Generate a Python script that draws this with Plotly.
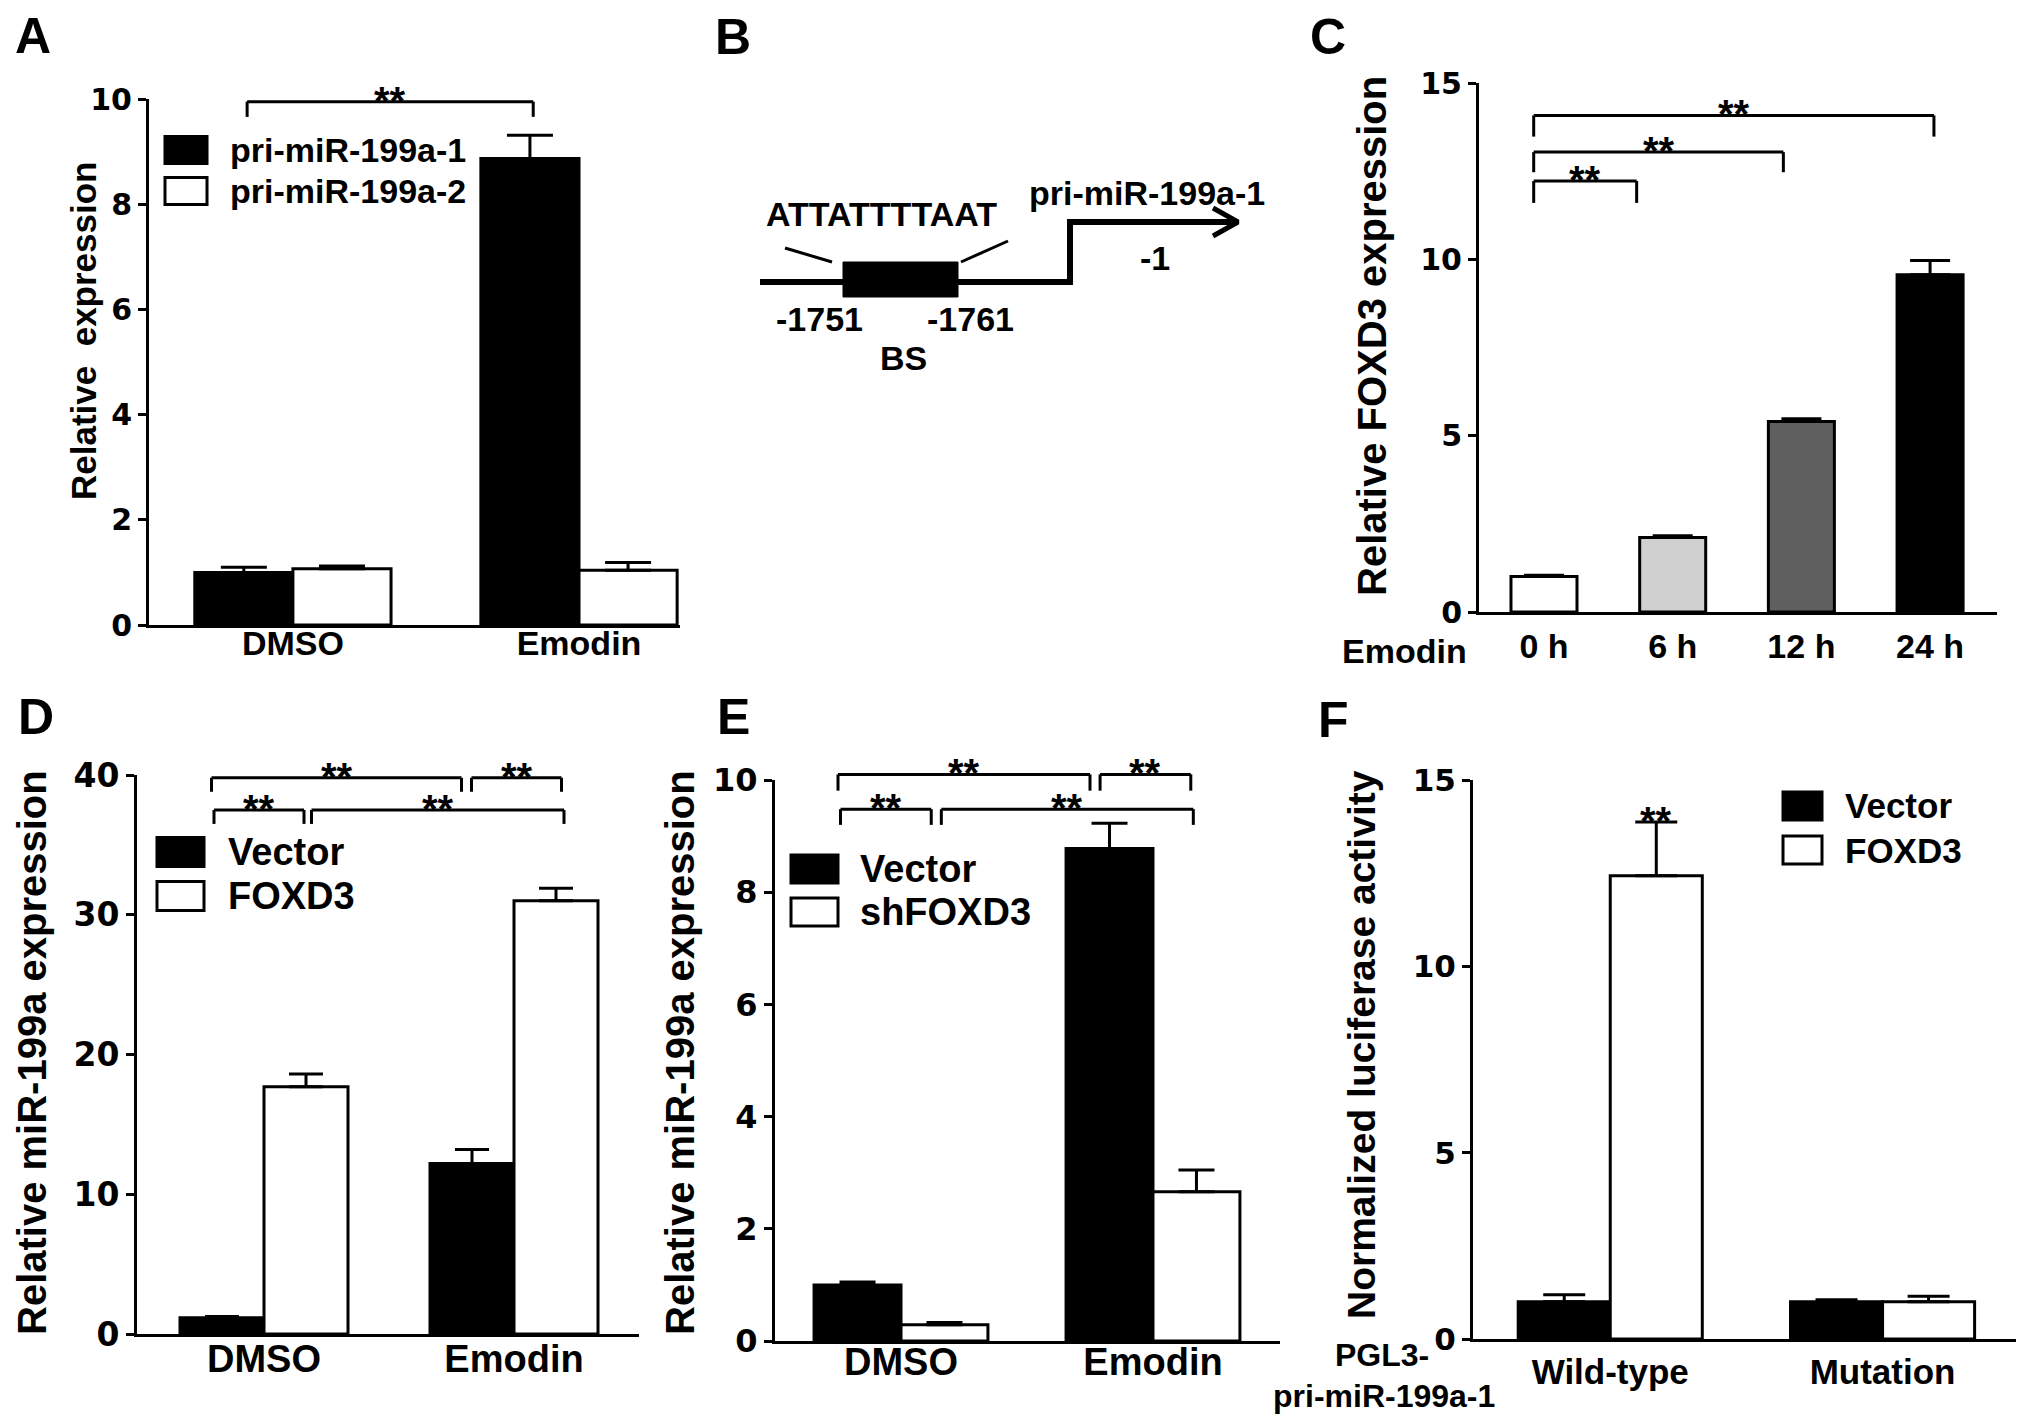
import plotly.graph_objects as go

W, H = 2031, 1426
FONT = "Liberation Sans, Arial, sans-serif"
NUM_FONT = "DejaVu Sans, Verdana, sans-serif"

# A: pri-miR-199a-1 / -2 after emodin
a_groups = ["DMSO", "Emodin"]
a_pri1 = [1.00, 8.87]
a_pri1_err = [0.10, 0.44]
a_pri2 = [1.07, 1.04]
a_pri2_err = [0.05, 0.15]

# C: FOXD3 after emodin, time course
c_times = ["0 h", "6 h", "12 h", "24 h"]
c_foxd3 = [1.01, 2.11, 5.40, 9.56]
c_foxd3_err = [0.03, 0.05, 0.08, 0.41]
c_colors = ["#ffffff", "#d0d0d0", "#5f5f5f", "#000000"]

# D: miR-199a with FOXD3 overexpression
d_groups = ["DMSO", "Emodin"]
d_vector = [1.16, 12.2]
d_vector_err = [0.10, 1.0]
d_foxd3 = [17.7, 31.0]
d_foxd3_err = [0.9, 0.9]

# E: miR-199a with FOXD3 knockdown
e_groups = ["DMSO", "Emodin"]
e_vector = [1.00, 8.78]
e_vector_err = [0.05, 0.45]
e_shfoxd3 = [0.29, 2.66]
e_shfoxd3_err = [0.04, 0.39]

# F: luciferase reporter
f_groups = ["Wild-type", "Mutation"]
f_vector = [1.00, 1.00]
f_vector_err = [0.19, 0.05]
f_foxd3 = [12.43, 1.00]
f_foxd3_err = [1.44, 0.15]

# significance brackets (x0, x1, y, drop) in axis units
a_brackets = [(-0.16, 0.84, 9.95, 0.29)]
c_brackets = [(-0.08, 0.72, 12.22, 0.62), (-0.08, 1.86, 13.04, 0.57), (-0.08, 3.03, 14.08, 0.60)]
d_brackets = [(-0.21, 0.79, 39.8, 1.0), (0.83, 1.19, 39.8, 1.0),
              (-0.20, 0.16, 37.5, 1.0), (0.19, 1.20, 37.5, 1.0)]
e_brackets = [(-0.25, 0.75, 10.1, 0.29), (0.79, 1.15, 10.1, 0.29),
              (-0.24, 0.12, 9.48, 0.28), (0.16, 1.16, 9.48, 0.28)]


def px(x):
    return x / W


def py(y):
    return 1 - y / H


fig = go.Figure()
yranges = {}


def sfx(n):
    return "" if n == 1 else str(n)


def bar(n, y, err, color, width, cap, offset=None):
    fig.add_trace(go.Bar(
        x=list(range(len(y))), y=y, width=width, offset=offset,
        marker=dict(color=color, line=dict(color="black", width=3)),
        error_y=dict(type="data", symmetric=False, array=err, arrayminus=[0] * len(err),
                     color="black", thickness=3, width=cap),
        xaxis="x" + sfx(n), yaxis="y" + sfx(n), showlegend=False, hoverinfo="skip"))


def axes(n, xdom, ydom, xrange, yrange, dtick, ticktext, standoff, xsize=36, ysize=30):
    yranges[n] = yrange
    fig.update_layout(**{
        "xaxis" + sfx(n): dict(domain=xdom, range=xrange, anchor="y" + sfx(n),
                               tickmode="array", tickvals=list(range(len(ticktext))),
                               ticktext=ticktext, ticks="", showline=True,
                               linecolor="black", linewidth=3, showgrid=False,
                               zeroline=False, ticklabelstandoff=standoff, automargin=False,
                               tickfont=dict(family=FONT, size=xsize, color="black",
                                             weight="bold"),
                               fixedrange=True),
        "yaxis" + sfx(n): dict(domain=ydom, range=yrange, anchor="x" + sfx(n),
                               tick0=0, dtick=dtick, ticks="outside", ticklen=8,
                               tickwidth=3, tickcolor="black", showline=True,
                               linecolor="black", linewidth=3, showgrid=False,
                               zeroline=False, automargin=False, fixedrange=True,
                               tickfont=dict(family=NUM_FONT, size=ysize, color="black",
                                             weight="bold")),
    })


def ydom(n, y):
    r0, r1 = yranges[n]
    return (y - r0) / (r1 - r0)


def stars(n, x, y, size=40):
    fig.add_annotation(x=x, y=ydom(n, y), xref="x" + sfx(n), yref="y" + sfx(n) + " domain",
                       text="**", showarrow=False, yanchor="bottom", yshift=-23,
                       font=dict(family=FONT, size=size, color="black", weight="bold"))


def brackets(n, items):
    for x0, x1, y, d in items:
        top, low = ydom(n, y), ydom(n, y - d)
        for seg in [(x0, low, x0, top), (x0, top, x1, top), (x1, top, x1, low)]:
            fig.add_shape(type="line", xref="x" + sfx(n), yref="y" + sfx(n) + " domain",
                          x0=seg[0], y0=seg[1], x1=seg[2], y1=seg[3],
                          line=dict(color="black", width=3))
        stars(n, (x0 + x1) / 2, y)


def text(x, y, s, size, anchor="center", angle=0):
    fig.add_annotation(x=px(x), y=py(y), xref="paper", yref="paper", text=s,
                       showarrow=False, xanchor=anchor, yanchor="middle", textangle=angle,
                       font=dict(family=FONT, size=size, color="black", weight="bold"))


def legend(x0, ys, labels, fills, size, bw=44, bh=28, gap=21):
    for yc, lab, fill in zip(ys, labels, fills):
        fig.add_shape(type="rect", xref="paper", yref="paper",
                      x0=px(x0), x1=px(x0 + bw), y0=py(yc + bh / 2), y1=py(yc - bh / 2),
                      fillcolor=fill, line=dict(color="black", width=3))
        text(x0 + bw + gap, yc, lab, size, anchor="left")


# ---- A
w = 0.343
bar(1, a_pri1, a_pri1_err, "black", w, 23, -w)
bar(1, a_pri2, a_pri2_err, "white", w, 23, 0)
axes(1, [px(149), px(680)], [py(625), py(99)], [-0.503, 1.353], [0, 10], 2, a_groups, -14, 34, 30)
brackets(1, a_brackets)
legend(165, [150, 191], ["pri-miR-199a-1", "pri-miR-199a-2"], ["black", "white"], 34, 42, 27)
text(83, 331, "Relative\u00a0 expression", 35, angle=-90)

# ---- C
bar(2, c_foxd3, c_foxd3_err, "black", 0.513, 20)
fig.data[-1].marker.color = c_colors
axes(2, [px(1479), px(1997)], [py(612), py(83)], [-0.505, 3.52], [0, 15], 5, c_times, 2, 34, 30)
brackets(2, c_brackets)
text(1404, 651, "Emodin", 34)
text(1372, 336, "Relative FOXD3 expression", 40, angle=-90)

# ---- D
w = 0.336
bar(3, d_vector, d_vector_err, "black", w, 17, -w)
bar(3, d_foxd3, d_foxd3_err, "white", w, 17, 0)
axes(3, [px(137), px(639)], [py(1334), py(775)], [-0.508, 1.5], [0, 40], 10, d_groups, -11, 38, 33)
brackets(3, d_brackets)
legend(157, [852, 896], ["Vector", "FOXD3"], ["black", "white"], 38, 47, 29, 22)
text(32, 1053, "Relative miR-199a expression", 40, angle=-90)

# ---- E
w = 0.345
bar(4, e_vector, e_vector_err, "black", w, 18, -w)
bar(4, e_shfoxd3, e_shfoxd3_err, "white", w, 18, 0)
axes(4, [px(775), px(1280)], [py(1341), py(780)], [-0.5, 1.504], [0, 10], 2, e_groups, -15, 38, 32)
brackets(4, e_brackets)
legend(791, [869, 912], ["Vector", "shFOXD3"], ["black", "white"], 38, 47, 28, 20)
text(680, 1053, "Relative miR-199a expression", 40, angle=-90)

# ---- F
w = 0.338
bar(5, f_vector, f_vector_err, "black", w, 21, -w)
bar(5, f_foxd3, f_foxd3_err, "white", w, 21, 0)
axes(5, [px(1473), px(2016)], [py(1339), py(780)], [-0.504, 1.49], [0, 15], 5, f_groups, 0, 35, 31)
stars(5, w / 2, f_foxd3[0] + f_foxd3_err[0])
legend(1783, [806, 850], ["Vector", "FOXD3"], ["black", "white"], 35, 39, 28)
text(1382, 1355, "PGL3-", 32)
text(1384, 1396, "pri-miR-199a-1", 32)
text(1361, 1045, "Normalized luciferase activity", 39, angle=-90)

# ---- B: schematic (drawing units)
b_dna_x = [760, 1070, 1070, 1238]
b_dna_y = [282, 282, 222, 222]
b_head_x = [1213, 1238, 1213]
b_head_y = [208, 222, 236]
b_site = dict(x0=843, x1=958, y0=262, y1=297)
b_flanks = [([785, 832], [248, 262]), ([961, 1008], [262, 241])]
b_labels = [("ATTATTTTAAT", 881, 214), ("pri-miR-199a-1", 1147, 193), ("-1", 1155, 258),
            ("-1751", 819, 319), ("-1761", 970, 319), ("BS", 903, 358)]

fig.update_layout(
    xaxis6=dict(domain=[px(700), px(1300)], range=[700, 1300], visible=False, anchor="y6",
                automargin=False),
    yaxis6=dict(domain=[py(400), py(150)], range=[400, 150], visible=False, anchor="x6",
                automargin=False),
)
fig.add_trace(go.Scatter(x=b_dna_x, y=b_dna_y, mode="lines", line=dict(color="black", width=6),
                         xaxis="x6", yaxis="y6", showlegend=False, hoverinfo="skip"))
fig.add_trace(go.Scatter(x=b_head_x, y=b_head_y, mode="lines", line=dict(color="black", width=5),
                         xaxis="x6", yaxis="y6", showlegend=False, hoverinfo="skip"))
for fx, fy in b_flanks:
    fig.add_trace(go.Scatter(x=fx, y=fy, mode="lines", line=dict(color="black", width=3),
                             xaxis="x6", yaxis="y6", showlegend=False, hoverinfo="skip"))
fig.add_shape(type="rect", xref="x6", yref="y6", fillcolor="black",
              line=dict(color="black", width=1), **b_site)
for s, x, y in b_labels:
    fig.add_annotation(x=x, y=y, xref="x6", yref="y6", text=s, showarrow=False,
                       font=dict(family=FONT, size=34, color="black", weight="bold"))

# panel letters
for lab, x, y in [("A", 33, 36), ("B", 733, 37), ("C", 1328, 37),
                  ("D", 36, 717), ("E", 733, 717), ("F", 1333, 720)]:
    text(x, y, lab, 50)

fig.update_layout(
    template="none",
    width=W, height=H, margin=dict(l=0, r=0, t=0, b=0, pad=0),
    barmode="overlay", plot_bgcolor="white", paper_bgcolor="white",
    font=dict(family=FONT, color="black"), showlegend=False,
)

# the page's default body margin would shift the figure by 8px
fig.write_html("out.html", config={"displayModeBar": False},
               post_script="document.body.style.margin='0px';")
